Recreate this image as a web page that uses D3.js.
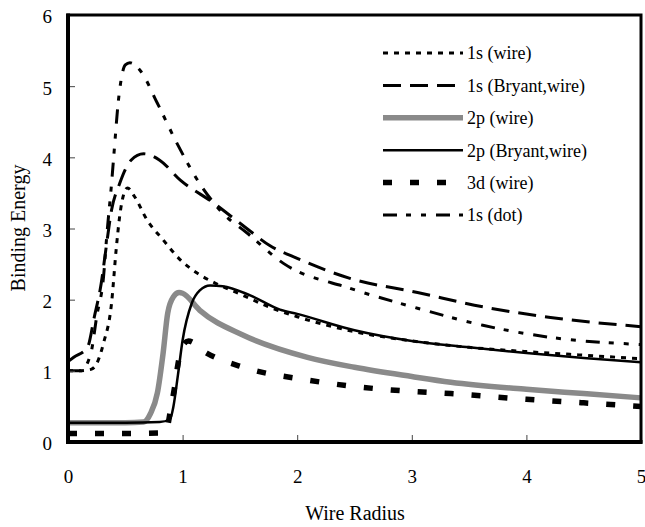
<!DOCTYPE html>
<html>
  <head>
    <meta charset="utf-8">
    <script src="https://d3js.org/d3.v7.min.js"></script>
    <style>
      body { margin: 0; background: #fff; }
      svg { display: block; font-family: "Liberation Serif", "DejaVu Serif", serif; }
    </style>
  </head>
  <body>
    <svg id="chart" width="645" height="527"></svg>
    <script>
      // values
      var r1sWire = [0, 0.1, 0.2, 0.25, 0.31, 0.38, 0.42, 0.45, 0.49, 0.52, 0.58, 0.69, 0.83, 0.98, 1.13, 1.3, 1.5, 1.75, 2.0, 2.5, 3.0, 3.5, 4.0, 4.5, 5.0];
      var e1sWire = [1.0, 1.0, 1.02, 1.1, 1.39, 1.95, 2.7, 3.16, 3.5, 3.57, 3.45, 3.12, 2.84, 2.56, 2.37, 2.22, 2.08, 1.9, 1.76, 1.55, 1.42, 1.33, 1.27, 1.22, 1.17];

      var r1sBryant = [0, 0.05, 0.17, 0.23, 0.29, 0.33, 0.38, 0.45, 0.55, 0.66, 0.8, 0.98, 1.27, 1.56, 1.76, 2.0, 2.46, 3.05, 3.62, 4.21, 5.0];
      var e1sBryant = [1.13, 1.19, 1.33, 1.76, 2.23, 2.7, 3.26, 3.63, 3.96, 4.05, 3.96, 3.68, 3.36, 3.0, 2.76, 2.58, 2.3, 2.1, 1.9, 1.75, 1.62];

      var r2pWire = [0, 0.5, 0.66, 0.72, 0.78, 0.83, 0.87, 0.92, 0.97, 1.0, 1.15, 1.53, 2.09, 2.5, 3.0, 3.34, 4.0, 4.5, 5.0];
      var e2pWire = [0.27, 0.27, 0.28, 0.4, 0.69, 1.25, 1.81, 2.04, 2.1, 2.09, 1.85, 1.5, 1.19, 1.05, 0.92, 0.84, 0.74, 0.68, 0.62];

      var r2pBryant = [0, 0.5, 0.8, 0.89, 0.92, 0.96, 1.0, 1.08, 1.15, 1.24, 1.35, 1.59, 1.85, 2.0, 2.5, 3.0, 3.5, 4.0, 4.5, 5.0];
      var e2pBryant = [0.27, 0.27, 0.28, 0.32, 0.5, 0.95, 1.43, 1.95, 2.13, 2.2, 2.19, 2.06, 1.86, 1.8, 1.57, 1.42, 1.33, 1.25, 1.18, 1.12];

      var r3dWire = [0, 0.5, 0.85, 0.9, 0.93, 0.96, 1.0, 1.05, 1.21, 1.53, 2.09, 2.5, 3.0, 3.34, 4.0, 4.5, 5.0];
      var e3dWire = [0.12, 0.12, 0.13, 0.5, 0.77, 1.1, 1.35, 1.42, 1.25, 1.05, 0.87, 0.78, 0.71, 0.68, 0.6, 0.55, 0.5];

      var r1sDot = [0, 0.11, 0.2, 0.25, 0.31, 0.34, 0.38, 0.4, 0.44, 0.5, 0.54, 0.63, 0.78, 0.95, 1.15, 1.36, 1.56, 1.88, 2.46, 3.05, 3.62, 4.21, 5.0];
      var e1sDot = [1.0, 1.0, 1.25, 1.76, 2.32, 2.93, 3.63, 4.03, 4.8, 5.3, 5.33, 5.22, 4.76, 4.2, 3.63, 3.2, 2.94, 2.51, 2.16, 1.88, 1.64, 1.47, 1.37];

      var xTicks = [0, 1, 2, 3, 4, 5];
      var yTicks = [0, 1, 2, 3, 4, 5, 6];

      var series = [
        { name: "1s (wire)", r: r1sWire, e: e1sWire, color: "#000", width: 3, dash: "5,6" },
        { name: "1s (Bryant,wire)", r: r1sBryant, e: e1sBryant, color: "#000", width: 3, dash: "18,9" },
        { name: "2p (wire)", r: r2pWire, e: e2pWire, color: "#8a8a8a", width: 5.5, dash: null },
        { name: "2p (Bryant,wire)", r: r2pBryant, e: e2pBryant, color: "#000", width: 2.5, dash: null },
        { name: "3d (wire)", r: r3dWire, e: e3dWire, color: "#000", width: 5.5, dash: "9,18" },
        { name: "1s (dot)", r: r1sDot, e: e1sDot, color: "#000", width: 3, dash: "14,9,5,10,5,10" }
      ];

      var svg = d3.select("#chart"),
          plotLeft = 68, plotRight = 641, plotTop = 15, plotBottom = 442;

      var x = d3.scaleLinear().domain([0, 5]).range([plotLeft, plotRight]);
      var y = d3.scaleLinear().domain([0, 6]).range([plotBottom, plotTop]);

      // curves
      var line = d3.line()
          .x(function(d) { return x(d[0]); })
          .y(function(d) { return y(d[1]); })
          .curve(d3.curveMonotoneX);

      svg.append("g").selectAll("path")
        .data(series)
        .enter().append("path")
          .attr("d", function(s) { return line(d3.zip(s.r, s.e)); })
          .attr("fill", "none")
          .attr("stroke", function(s) { return s.color; })
          .attr("stroke-width", function(s) { return s.width; })
          .attr("stroke-dasharray", function(s) { return s.dash; });

      // axes, ticks pointing inward
      var xAxis = d3.axisBottom(x).tickValues(xTicks).tickSize(-7).tickPadding(0).tickFormat(d3.format("d"));
      var yAxis = d3.axisLeft(y).tickValues(yTicks).tickSize(-7).tickPadding(0).tickFormat(d3.format("d"));

      var gx = svg.append("g").attr("transform", "translate(0," + plotBottom + ")").call(xAxis);
      gx.select(".domain").remove();
      gx.selectAll("line").attr("stroke", "#444").attr("stroke-width", 1);
      gx.selectAll("text").attr("y", 41).attr("dy", 0).attr("font-size", 19).attr("font-family", "Liberation Serif").attr("fill", "#000");

      var gy = svg.append("g").attr("transform", "translate(" + plotLeft + ",0)").call(yAxis);
      gy.select(".domain").remove();
      gy.selectAll("line").attr("stroke", "#444").attr("stroke-width", 1);
      gy.selectAll("text").attr("x", -16).attr("dy", "0.42em").attr("font-size", 19).attr("font-family", "Liberation Serif").attr("fill", "#000");

      // frame
      svg.append("rect")
          .attr("x", plotLeft).attr("y", plotTop)
          .attr("width", plotRight - plotLeft).attr("height", plotBottom - plotTop)
          .attr("fill", "none").attr("stroke", "#000").attr("stroke-width", 3);
      svg.append("line").attr("x1", plotLeft).attr("x2", plotLeft).attr("y1", plotTop - 1.5).attr("y2", plotBottom + 2)
          .attr("stroke", "#000").attr("stroke-width", 4);
      svg.append("line").attr("x1", plotLeft - 2).attr("x2", plotRight + 1.5).attr("y1", plotBottom).attr("y2", plotBottom)
          .attr("stroke", "#000").attr("stroke-width", 4);

      // axis titles
      svg.append("text")
          .attr("x", 355).attr("y", 520)
          .attr("text-anchor", "middle").attr("font-size", 20)
          .text("Wire Radius");
      svg.append("text")
          .attr("transform", "translate(25,228) rotate(-90)")
          .attr("text-anchor", "middle").attr("font-size", 20)
          .text("Binding Energy");

      // legend
      var legend = svg.append("g").selectAll("g")
        .data(series)
        .enter().append("g")
          .attr("transform", function(s, i) { return "translate(383," + (53 + i * 32.4) + ")"; });

      legend.append("line")
          .attr("x1", 0).attr("x2", 80)
          .attr("stroke", function(s) { return s.color; })
          .attr("stroke-width", function(s) { return s.width; })
          .attr("stroke-dasharray", function(s) { return s.dash; });

      legend.append("text")
          .attr("x", 84).attr("dy", "0.35em")
          .attr("font-size", 18)
          .text(function(s) { return s.name; });
    </script>
  </body>
</html>
